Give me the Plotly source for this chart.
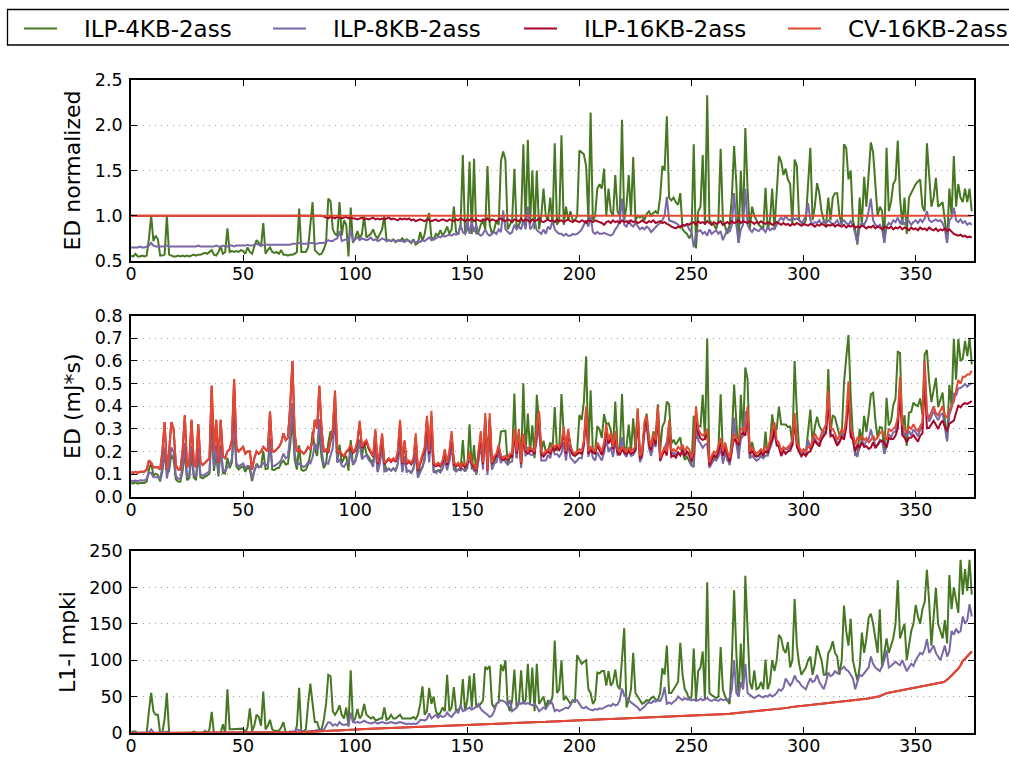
import plotly.graph_objects as go

# ---------------------------------------------------------------------------
# Per-benchmark data (benchmarks sorted by L1-I misses of the CV-16KB cache)
# ---------------------------------------------------------------------------

# Energy-delay normalised to the CV-16KB-2ass baseline
norm_ilp4kb = [
    .56, .55, .58, .55, .55, .56, .55, .56, .75, 1.0, .72, .78, .74, .56, .56, .57, 1.0, .57, .56, .55, .55, .56, .55, .56, .55,
    .56, .55, .56, .57, .56, .57, .57, .58, .59, .58, .6, .62, .57, .56, .6, .66, .58, .6, .86, .6, .61, .6, .61, .6, .62,
    .61, .58, .65, .6, .58, .66, .73, .7, .66, .92, .58, .62, .65, .6, .59, .6, .58, .62, .57, .57, .56, .57, .57, .58, .6,
    1.08, .6, .6, .6, .65, .9, 1.15, .62, .6, .57, .58, .63, .7, 1.19, 1.16, .85, .8, .78, 1.15, .78, .95, .9, .55, 1.09, .7,
    .75, .83, .75, .8, 1.0, .76, .78, .8, .85, .78, .75, .8, .85, 1.0, .72, .73, .72, .74, .71, .73, .72, .75, .72, .74, .72,
    .7, .74, .68, .7, .82, .72, .8, .95, 1.03, .76, .74, .8, .78, .84, .78, .82, .88, .8, .85, 1.1, .82, .8, .9, 1.67, .8,
    .85, 1.6, .8, 1.63, .8, .82, .9, .95, .85, 1.55, .9, .8, .85, .95, .9, 1.6, 1.71, 1.62, .85, .9, .95, 1.52, .85, .9, .95,
    1.79, .9, 1.84, .9, 1.5, .85, 1.5, .85, 1.0, 1.3, 1.0, .95, 1.2, .9, 1.8, .9, .95, 1.89, .9, 1.1, .95, 1.05, .95, .95, 1.0,
    1.72, 1.7, 1.68, 1.55, .95, 2.14, .95, 1.0, 1.3, 1.35, 1.3, 1.52, 1.0, 1.3, 1.05, 1.0, 1.45, 1.05, 1.0, 2.06, .95, 1.1, 1.45, 1.0, 1.65,
    .95, 1.0, .98, 1.0, .95, 1.02, 1.05, 1.0, 1.03, 1.05, 1.02, 1.2, 1.55, 1.5, 2.1, 1.2, 1.17, 1.2, 1.15, 1.12, 1.25, .85, .82, .8, .75,
    .8, 1.79, .64, 1.05, 1.1, 1.67, .9, 2.33, .95, .92, .9, .85, .95, 1.74, .95, .88, .8, .9, 1.2, 1.77, 1.35, .7, 1.5, .9, 1.97,
    1.3, .85, 1.1, 1.0, .95, .9, .88, .85, 1.31, .85, .95, 1.3, .85, 1.2, 1.66, 1.6, 1.45, 1.52, 1.4, 1.35, .9, 1.62, 1.55, .95, .92,
    .9, .95, 1.3, 1.75, .95, 1.1, 1.36, 1.25, 1.05, .95, .9, 1.2, .95, 1.2, 1.25, 1.25, 1.0, .9, 1.79, 1.75, 1.4, 1.5, .95, .85, .68,
    1.2, .9, 1.43, 1.1, 1.5, 1.81, 1.7, 1.35, 1.0, 1.1, 1.05, .7, 1.75, 1.05, 1.15, 1.35, 1.4, 1.83, 1.2, .9, 1.2, .8, 1.2, 1.25, 1.3,
    1.35, 1.38, 1.4, 1.1, 1.05, 1.8, 1.45, 1.1, 1.2, 1.42, 1.1, 1.12, 1.15, .95, .7, 1.3, 1.0, 1.66, 1.1, 1.35, 1.2, 1.15, 1.3, 1.15, 1.3,
    1.05,
]

norm_ilp8kb = [
    .65, .65, .65, .65, .66, .65, .65, .66, .67, .7, .67, .66, .66, .66, .66, .66, .67, .66, .66, .66, .66, .66, .66, .66, .66,
    .66, .66, .66, .66, .66, .67, .66, .66, .66, .66, .66, .66, .66, .67, .66, .66, .67, .66, .66, .67, .67, .66, .67, .67, .67,
    .67, .67, .68, .67, .67, .68, .69, .68, .67, .68, .68, .68, .68, .68, .68, .68, .68, .68, .68, .68, .68, .68, .69, .69, .69,
    .7, .69, .69, .69, .69, .7, .7, .69, .69, .7, .7, .7, .71, .73, .72, .72, .74, .75, .83, .72, .73, .74, .72, .85, .72,
    .74, .76, .73, .75, .74, .73, .74, .76, .73, .74, .72, .73, .75, .74, .72, .73, .72, .73, .72, .72, .73, .72, .71, .73, .72,
    .71, .72, .7, .72, .71, .73, .72, .74, .76, .73, .74, .75, .77, .76, .78, .77, .78, .79, .78, .8, .79, .8, .9, .82, .8,
    .95, .8, .93, .82, .9, .8, .78, .8, .85, .8, .78, .8, .82, .8, .85, .82, 1.06, .85, .83, .8, .82, .9, .85, .88, .85,
    .95, .85, 1.1, .85, .88, .95, .84, .82, .8, .85, .8, .88, .85, .95, .85, .82, .8, .8, .78, .8, .78, .78, .8, .79, .8,
    .82, .85, .9, .95, .88, 1.0, .82, .8, .82, .8, .8, .81, .8, .79, .78, .8, .85, .88, .95, 1.19, .9, .88, .95, .9, .88,
    .92, .88, .85, .87, .85, .88, .86, .82, .85, .88, .9, .92, .95, 1.0, 1.21, .95, .94, .93, .92, .9, .88, .9, .89, .9, .85,
    .82, .65, .8, .83, .84, .8, .82, .78, .85, .8, .82, .84, .8, .83, .73, .8, .85, .82, .9, 1.25, .9, .7, .85, .9, 1.3,
    .9, .85, .82, .86, .84, .83, .86, .85, .82, .88, .84, .86, .85, .9, .95, .98, .95, 1.0, .96, .95, .98, .96, .97, .95, .92,
    .95, 1.0, 1.14, .95, .9, .93, .92, .95, .9, .94, .92, .95, .93, .9, .92, .95, .9, .93, .95, .92, .9, .94, .9, .8, .7,
    .88, .92, .9, .95, 1.05, 1.19, .95, .9, .88, .9, .85, .7, .88, .92, .9, .95, .93, .98, .92, .95, .9, .96, .94, .9, .93,
    .95, .92, .96, .93, .97, 1.05, .95, .93, .95, .96, .94, .95, .92, .85, .7, .95, .98, 1.09, .95, .93, .96, .92, .94, .9, .92,
    .9,
]

norm_ilp16kb = [
    1.0, 1.0, 1.0, 1.0, 1.0, 1.0, 1.0, 1.0, 1.0, 1.0, 1.0, 1.0, 1.0, 1.0, 1.0, 1.0, 1.0, 1.0, 1.0, 1.0, 1.0, 1.0, 1.0, 1.0, 1.0,
    1.0, 1.0, 1.0, 1.0, 1.0, 1.0, 1.0, 1.0, 1.0, 1.0, 1.0, 1.0, 1.0, 1.0, 1.0, 1.0, 1.0, 1.0, 1.0, 1.0, 1.0, 1.0, 1.0, 1.0, 1.0,
    1.0, 1.0, 1.0, 1.0, 1.0, 1.0, 1.0, 1.0, 1.0, 1.0, 1.0, 1.0, 1.0, 1.0, 1.0, 1.0, 1.0, 1.0, 1.0, 1.0, 1.0, 1.0, 1.0, 1.0, 1.0,
    1.0, 1.0, 1.0, 1.0, 1.0, 1.0, 1.0, 1.0, 1.0, 1.0, 1.0, .99, .98, .97, .99, .98, .97, .99, .98, .97, .98, .99, .97, .98, .97,
    .97, .96, .97, .98, .96, .97, .96, .97, .98, .96, .97, .96, .97, .96, .97, .98, .96, .97, .96, .95, .97, .96, .97, .96, .97,
    .95, .96, .94, .95, .96, .95, .94, .96, .95, .94, .95, .96, .94, .95, .96, .95, .94, .96, .95, .94, .96, .95, .97, .95, .94,
    .96, .95, .97, .94, .96, .95, .94, .96, .95, .97, .94, .96, .95, .94, .96, .97, .95, .94, .96, .95, .93, .96, .95, .94, .97,
    .94, .96, .95, .93, .96, .94, .95, .97, .94, .93, .95, .96, .94, .95, .93, .96, .94, .95, .93, .95, .96, .94, .93, .95, .94,
    .93, .95, .94, .92, .95, .94, .93, .95, .94, .93, .92, .9, .93, .94, .92, .95, .93, .94, .92, .95, .93, .94, .92, .95, .93,
    .94, .92, .93, .95, .93, .92, .94, .93, .95, .92, .93, .94, .92, .93, .91, .9, .88, .87, .86, .88, .87, .9, .89, .91, .9,
    .92, .93, .9, .94, .92, .93, .91, .94, .92, .9, .93, .91, .92, .94, .9, .92, .93, .91, .94, .92, .93, .95, .92, .94, .93,
    .92, .94, .93, .91, .93, .92, .94, .92, .91, .93, .92, .9, .91, .93, .91, .9, .92, .9, .91, .89, .91, .9, .92, .9, .89,
    .91, .9, .89, .91, .9, .88, .9, .89, .91, .9, .88, .9, .89, .91, .88, .9, .89, .88, .9, .87, .89, .88, .9, .87, .88,
    .87, .89, .88, .86, .88, .87, .89, .86, .88, .87, .85, .88, .87, .86, .88, .85, .87, .86, .88, .85, .87, .86, .84, .87, .85,
    .86, .84, .87, .85, .86, .84, .87, .85, .84, .86, .83, .85, .84, .86, .83, .85, .82, .8, .79, .78, .79, .77, .78, .76, .77,
    .76,
]

# Absolute energy-delay of the CV-16KB-2ass baseline (mJ*s)
ed_cv16kb = [
    .11, .105, .11, .105, .11, .11, .11, .12, .16, .15, .13, .13, .13, .12, .2, .33, .12, .2, .33, .3, .14, .12, .12, .2, .36,
    .13, .15, .34, .15, .13, .32, .15, .14, .15, .16, .17, .49, .2, .34, .15, .34, .18, .17, .2, .21, .25, .52, .22, .2, .21,
    .22, .19, .2, .2, .12, .17, .2, .19, .2, .22, .21, .2, .376, .2, .2, .21, .22, .24, .28, .25, .26, .4, .6, .28, .2,
    .21, .2, .19, .2, .22, .21, .25, .34, .3, .49, .3, .2, .21, .2, .25, .3, .47, .2, .2, .19, .18, .2, .21, .23, .2,
    .21, .25, .336, .22, .24, .25, .22, .2, .18, .3, .15, .2, .28, .15, .16, .17, .16, .17, .16, .2, .34, .15, .25, .15, .16,
    .15, .17, .28, .12, .15, .18, .22, .357, .2, .38, .15, .14, .15, .14, .16, .21, .15, .2, .29, .15, .14, .15, .13, .15, .14,
    .15, .2, .15, .14, .12, .2, .29, .15, .37, .12, .37, .15, .18, .19, .23, .18, .17, .18, .17, .19, .19, .3, .2, .3, .15,
    .28, .21, .2, .22, .21, .2, .3, .38, .2, .19, .2, .21, .2, .23, .22, .23, .22, .24, .31, .2, .3, .22, .2, .19, .2,
    .21, .2, .25, .4, .2, .22, .21, .2, .24, .22, .2, .24, .32, .25, .28, .22, .29, .21, .2, .22, .21, .2, .22, .2, .21,
    .22, .39, .18, .2, .33, .36, .25, .22, .28, .25, .4, .17, .2, .22, .2, .34, .2, .21, .2, .22, .21, .23, .2, .22, .21,
    .17, .2, .4, .3, .28, .27, .28, .3, .15, .18, .2, .19, .22, .26, .2, .24, .2, .17, .22, .28, .26, .24, .3, .3, .29,
    .4, .2, .22, .2, .19, .2, .21, .2, .22, .21, .25, .28, .33, .25, .24, .2, .22, .21, .22, .23, .25, .37, .24, .22, .2,
    .21, .2, .22, .22, .25, .28, .26, .25, .28, .3, .32, .47, .3, .3, .28, .25, .27, .3, .28, .35, .51, .3, .28, .23, .26,
    .25, .27, .25, .26, .24, .25, .27, .25, .26, .28, .29, .27, .25, .3, .29, .3, .31, .35, .53, .32, .3, .28, .31, .3, .32,
    .3, .29, .31, .33, .6, .36, .35, .38, .4, .37, .36, .38, .4, .36, .35, .38, .4, .42, .47, .516, .5, .53, .53, .54, .54,
    .557,
]

# L1 instruction-cache misses per kilo-instruction
mpki_ilp4kb = [
    0, 2, 2, 0, 0, 0, 0, 0, 30, 55, 30, 25, 25, 0, 0, 20, 55, 0, 0, 0, 0, 0, 0, 0, 0,
    0, 0, 0, 2, 0, 0, 0, 0, 3, 0, 5, 29, 0, 0, 0, 0, 12, 0, 60, 5, 5, 5, 6, 5, 5,
    6, 0, 8, 34, 3, 10, 25, 22, 10, 57, 5, 10, 18, 5, 3, 3, 3, 8, 15, 0, 0, 0, 0, 0, 10,
    62, 0, 3, 5, 40, 68, 40, 15, 15, 5, 5, 18, 40, 80, 78, 30, 25, 30, 38, 25, 20, 35, 10, 86, 15,
    20, 33, 20, 25, 40, 25, 22, 20, 22, 18, 18, 20, 20, 35, 18, 20, 25, 20, 20, 22, 25, 20, 20, 20, 20,
    20, 22, 19, 25, 40, 64, 25, 30, 62, 40, 50, 30, 25, 28, 35, 30, 80, 30, 35, 63, 30, 32, 35, 74, 30,
    45, 79, 35, 82, 35, 38, 40, 45, 91, 88, 92, 40, 35, 40, 42, 94, 85, 100, 40, 30, 45, 87, 35, 40, 86,
    40, 45, 95, 40, 90, 30, 95, 40, 45, 50, 35, 45, 40, 50, 127, 55, 60, 100, 45, 50, 45, 40, 45, 42, 107,
    100, 95, 98, 100, 60, 55, 40, 45, 83, 82, 85, 85, 65, 85, 65, 70, 87, 65, 60, 100, 144, 35, 45, 60, 110,
    55, 50, 45, 40, 42, 45, 44, 48, 50, 46, 45, 55, 89, 80, 120, 55, 55, 60, 65, 70, 124, 80, 60, 55, 45,
    50, 116, 45, 85, 90, 112, 45, 207, 55, 52, 50, 48, 50, 118, 60, 50, 45, 40, 100, 196, 110, 50, 123, 60, 216,
    130, 70, 60, 86, 60, 62, 70, 60, 101, 60, 70, 100, 85, 100, 135, 130, 115, 110, 125, 90, 100, 184, 120, 95, 80,
    85, 90, 100, 105, 80, 95, 120, 110, 100, 80, 80, 110, 115, 126, 110, 105, 80, 100, 175, 140, 120, 157, 100, 85, 72,
    90, 138, 110, 130, 158, 164, 150, 130, 110, 170, 90, 110, 130, 110, 120, 130, 150, 210, 130, 140, 150, 100, 120, 140, 150,
    176, 160, 150, 170, 180, 224, 180, 120, 160, 199, 150, 140, 130, 155, 123, 217, 170, 200, 185, 165, 238, 190, 225, 195, 238,
    190,
]

mpki_ilp8kb = [
    0, 0, 0, 0, 0, 0, 0, 0, 1, 5, 1, 0, 0, 0, 0, 1, 2, 0, 0, 0, 0, 0, 0, 0, 0,
    0, 0, 0, 0, 0, 0, 0, 0, 0, 0, 0, 1, 0, 0, 0, 0, 0, 0, 1, 0, 0, 0, 0, 0, 0,
    0, 0, 0, 1, 0, 0, 1, 1, 0, 1, 0, 0, 1, 0, 0, 0, 0, 0, 1, 0, 1, 2, 2, 2, 5,
    4, 2, 2, 2, 2, 3, 3, 3, 4, 3, 5, 4, 10, 15, 14, 10, 12, 10, 15, 12, 11, 12, 10, 28, 15,
    14, 15, 14, 15, 17, 15, 14, 13, 14, 15, 13, 14, 15, 14, 13, 14, 15, 14, 13, 14, 15, 14, 13, 12, 13,
    12, 13, 12, 14, 18, 18, 17, 19, 27, 20, 22, 25, 21, 24, 22, 23, 28, 24, 22, 26, 30, 28, 38, 30, 32,
    33, 35, 32, 34, 36, 40, 33, 30, 28, 25, 22, 24, 30, 40, 43, 45, 44, 42, 38, 45, 30, 32, 35, 43, 40,
    42, 40, 41, 40, 38, 40, 36, 30, 33, 35, 33, 38, 45, 40, 30, 32, 30, 31, 33, 35, 34, 38, 45, 44, 45,
    40, 35, 34, 36, 33, 32, 31, 33, 32, 34, 33, 35, 36, 38, 37, 40, 38, 39, 45, 61, 52, 48, 45, 42, 40,
    38, 35, 31, 33, 36, 40, 42, 41, 44, 43, 45, 44, 50, 63, 40, 42, 40, 43, 45, 50, 47, 45, 48, 46, 48,
    45, 46, 44, 45, 47, 45, 46, 48, 45, 44, 46, 45, 44, 47, 45, 46, 44, 48, 60, 100, 55, 50, 70, 60, 95,
    55, 52, 50, 48, 50, 52, 50, 49, 51, 50, 53, 50, 52, 55, 60, 58, 62, 75, 70, 65, 70, 79, 72, 70, 65,
    62, 60, 68, 75, 70, 72, 80, 70, 65, 60, 70, 83, 78, 80, 85, 82, 85, 88, 91, 87, 85, 80, 75, 60, 70,
    80, 78, 82, 85, 90, 105, 95, 90, 88, 85, 92, 100, 114, 90, 92, 95, 98, 95, 93, 100, 92, 85, 90, 95, 92,
    100, 105, 110, 108, 115, 129, 110, 115, 120, 110, 105, 100, 110, 120, 105, 112, 140, 135, 143, 138, 140, 160, 150, 155, 177,
    160,
]

mpki_cv16kb = [
    0, 0, 0, 0, 0, 0, 0, 0, 0, 0, 0, 0, 0, 0, 0, 0, 0, 0, 0, 0, .1, .1, .1, .1, .1, .1, .1, .1, .1, .1,
    .1, .1, .1, .1, .2, .2, .2, .2, .2, .2, .2, .2, .3, .3, .3, .3, .3, .3, .3, .4, .4, .4, .4, .4, .4, .5, .5, .5, .5, .5,
    .5, .6, .6, .6, .6, .7, .7, .7, .7, .8, .8, .8, .9, .9, 1, 1, 1.1, 1.2, 1.2, 1.3, 1.4, 1.5, 1.6, 1.8, 2, 2.2, 2.4, 2.6, 2.8, 3,
    3.2, 3.4, 3.6, 3.8, 4, 4.2, 4.4, 4.6, 4.8, 5, 5.1, 5.2, 5.3, 5.5, 5.6, 5.7, 5.8, 5.9, 6, 6.1, 6.2, 6.3, 6.4, 6.6, 6.8, 6.9, 7, 7.2, 7.3, 7.4,
    7.6, 7.8, 8, 8.2, 8.3, 8.4, 8.5, 8.6, 8.7, 8.8, 8.9, 9, 9.1, 9.2, 9.3, 9.4, 9.5, 9.6, 9.7, 9.8, 9.9, 10, 10.1, 10.3, 10.5, 10.6, 10.8, 11, 11.2, 11.4,
    11.5, 11.6, 11.7, 11.8, 11.9, 12, 12.1, 12.2, 12.3, 12.4, 12.5, 12.6, 12.7, 12.8, 12.9, 13, 13.1, 13.2, 13.3, 13.4, 13.5, 13.6, 13.7, 13.8, 13.9, 14, 14.2, 14.4, 14.5, 14.6,
    14.8, 14.9, 15, 15.1, 15.3, 15.4, 15.6, 15.7, 15.8, 16, 16.1, 16.2, 16.4, 16.5, 16.6, 16.8, 16.9, 17, 17.2, 17.3, 17.4, 17.6, 17.7, 17.8, 18, 18.1, 18.3, 18.4, 18.5, 18.7,
    18.8, 18.9, 19.1, 19.2, 19.4, 19.5, 19.6, 19.8, 19.9, 20.1, 20.2, 20.3, 20.5, 20.6, 20.8, 20.9, 21.1, 21.2, 21.4, 21.5, 21.7, 21.8, 22, 22.1, 22.3, 22.4, 22.6, 22.7, 22.9, 23,
    23.1, 23.2, 23.3, 23.4, 23.5, 23.6, 23.7, 23.8, 23.9, 24,
    24.1, 24.2, 24.3, 24.4, 24.5, 24.6, 24.7, 24.8, 24.9, 25, 25.1, 25.2, 25.3, 25.5, 25.7, 25.9, 26.1, 26.3, 26.6, 26.9, 27.2, 27.5, 27.8, 28.1, 28.4, 28.7, 29, 29.3, 29.7, 30.1,
    30.4, 30.7, 31, 31.2, 31.5, 31.7, 32, 32.2, 32.5, 32.8, 33, 33.3, 33.6, 34.5, 35.5, 36, 36.3, 36.7, 37, 37.3, 37.6, 37.9, 38.2, 38.5, 38.8, 39.1, 39.4, 39.7, 40, 40.4,
    40.7, 41, 41.4, 41.7, 42, 42.4, 42.7, 43, 43.4, 43.7, 44, 44.4, 44.8, 45.2, 45.6, 46, 46.3, 46.7, 47.1, 47.5, 47.9, 48.3, 48.8, 49.3, 50.5, 52, 53.5, 54.5, 55.2, 55.8,
    56.4, 57, 57.5, 58, 58.6, 59.2, 59.8, 60.3, 60.8, 61.3, 61.8, 62.3, 62.8, 63.3, 63.9, 64.5, 65.1, 65.7, 66.4, 67, 67.8, 68.7, 69.6, 70.8, 73, 76, 79, 82, 85, 88.5,
    93, 99, 102, 105, 108, 112,
]
# ILP-16KB-2ass has the same L1-I geometry as the CV-16KB baseline -> same misses
mpki_ilp16kb = list(mpki_cv16kb)

# Baseline normalised to itself
norm_cv16kb = [1.0] * len(ed_cv16kb)

# Absolute ED of each ILP configuration = normalised ED x baseline ED
ed_ilp4kb = [n * b for n, b in zip(norm_ilp4kb, ed_cv16kb)]
ed_ilp8kb = [n * b for n, b in zip(norm_ilp8kb, ed_cv16kb)]
ed_ilp16kb = [n * b for n, b in zip(norm_ilp16kb, ed_cv16kb)]

series_names = ["ILP-4KB-2ass", "ILP-8KB-2ass", "ILP-16KB-2ass", "CV-16KB-2ass"]
series_colors = ["#467821", "#7A68A6", "#A60628", "#E24A33"]

x_ticks = [0, 50, 100, 150, 200, 250, 300, 350]
norm_ticks = [0.5, 1.0, 1.5, 2.0, 2.5]
ed_ticks = [0.0, 0.1, 0.2, 0.3, 0.4, 0.5, 0.6, 0.7, 0.8]
mpki_ticks = [0, 50, 100, 150, 200, 250]

panels = [
    ("ED normalized", [norm_ilp4kb, norm_ilp8kb, norm_ilp16kb, norm_cv16kb], [0.5, 2.5], norm_ticks, "%.1f"),
    ("ED (mJ*s)", [ed_ilp4kb, ed_ilp8kb, ed_ilp16kb, ed_cv16kb], [0.0, 0.8], ed_ticks, "%.1f"),
    ("L1-I mpki", [mpki_ilp4kb, mpki_ilp8kb, mpki_ilp16kb, mpki_cv16kb], [0, 250], mpki_ticks, "%d"),
]

# ---------------------------------------------------------------------------
W, H = 1009, 758
ML, MR, MT, MB = 131, 35, 80, 25
plot_h = H - MT - MB
plot_w = W - ML - MR


def py(px):
    """pixel row -> paper y"""
    return (H - MB - px) / plot_h


def pxx(px):
    """pixel column -> paper x"""
    return (px - ML) / plot_w


y_domains = [[py(261), 1.0], [py(496.7), py(315.7)], [0.0, py(551)]]

FONT = "DejaVu Sans"
NBSP = "\u00a0"
fig = go.Figure()

legend_keys = ["legend", "legend2", "legend3", "legend4"]
for p, (title, data, yr, yt, fmt) in enumerate(panels):
    xa = "x" if p == 0 else f"x{p + 1}"
    ya = "y" if p == 0 else f"y{p + 1}"
    for k, (name, color, vals) in enumerate(zip(series_names, series_colors, data)):
        fig.add_trace(go.Scatter(
            x=list(range(len(vals))), y=vals, mode="lines",
            name=NBSP * 3 + name,
            line=dict(color=color, width=2),
            xaxis=xa, yaxis=ya,
            showlegend=(p == 0), legend=legend_keys[k],
            hoverinfo="skip",
        ))

    axis_common = dict(
        showline=True, linecolor="black", linewidth=1.6, mirror="ticks",
        ticks="inside", ticklen=6, tickwidth=1.2, tickcolor="black",
        tickfont=dict(family=FONT, size=17.5, color="black"),
        zeroline=False,
    )
    xkey = "xaxis" if p == 0 else f"xaxis{p + 1}"
    ykey = "yaxis" if p == 0 else f"yaxis{p + 1}"
    fig.layout[xkey] = dict(
        axis_common, domain=[0, 1], range=[0, 376], anchor=ya,
        tickvals=x_ticks, ticktext=[str(v) for v in x_ticks], showgrid=False,
        ticklabelstandoff=-4,
    )
    fig.layout[ykey] = dict(
        axis_common, domain=y_domains[p], range=yr, anchor=xa,
        tickvals=yt, ticktext=[fmt % v for v in yt],
        showgrid=True, gridcolor="#9a9a9a", gridwidth=1, griddash="1px,5px",
        ticklabelstandoff=3,
        title=dict(text=title, font=dict(family=FONT, size=22, color="black"), standoff=8),
    )

# Legend: one entry per slot of the frame, framed by a single rectangle
legend_x_px = [19, 268, 519, 783]
for key, lx in zip(legend_keys, legend_x_px):
    fig.layout[key] = dict(
        x=pxx(lx), xanchor="left", y=py(7), yanchor="top",
        orientation="h", itemwidth=33, borderwidth=0, bgcolor="rgba(0,0,0,0)",
        font=dict(family=FONT, size=23, color="black"),
        tracegroupgap=0,
    )

fig.add_shape(
    type="rect", xref="paper", yref="paper",
    x0=pxx(7.5), x1=pxx(1030), y0=py(45), y1=py(9.5),
    line=dict(color="black", width=1.3), fillcolor="rgba(0,0,0,0)", layer="above",
)

fig.update_layout(
    width=W, height=H,
    margin=dict(l=ML, r=MR, t=MT, b=MB, autoexpand=False),
    paper_bgcolor="white", plot_bgcolor="white",
    font=dict(family=FONT, color="black"),
    hovermode=False,
)

fig.write_html("out.html", config={"displayModeBar": False})
